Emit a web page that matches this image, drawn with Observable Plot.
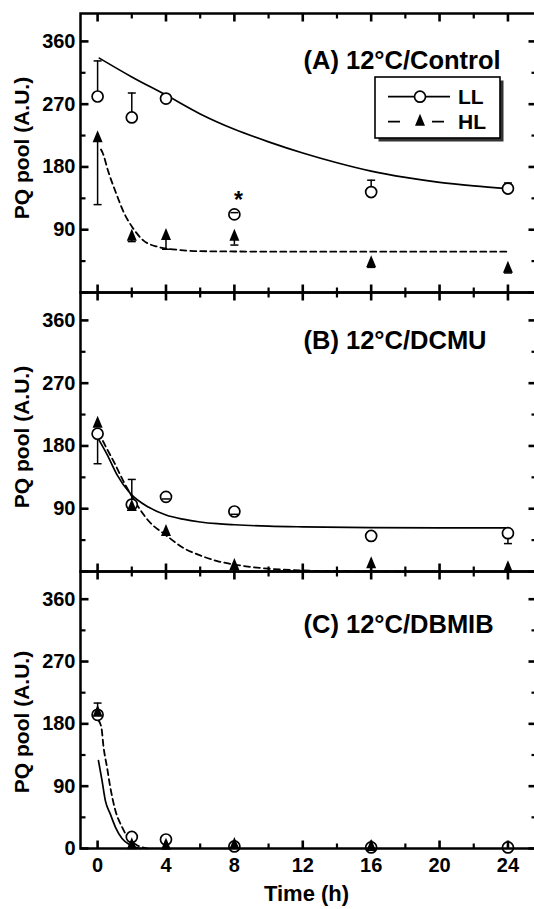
<!DOCTYPE html>
<html><head><meta charset="utf-8">
<script src="https://cdn.jsdelivr.net/npm/d3@7"></script>
<script src="https://cdn.jsdelivr.net/npm/@observablehq/plot@0.6"></script>
<style>
html,body{margin:0;padding:0;background:#fff;overflow:hidden}
#fig{position:relative;width:534px;height:909px;font-family:"Liberation Sans",Arial,Helvetica,sans-serif}
#fig > svg{display:block;overflow:visible}
#legend{position:absolute;left:372px;top:74px;overflow:visible}
</style></head><body><div id="fig"></div>
<script>
// ---------- data ----------
const times = [0, 2, 4, 8, 16, 24];
const panels = ["A", "B", "C"];
const panelTitles = ["(A) 12°C/Control", "(B) 12°C/DCMU", "(C) 12°C/DBMIB"];
const seriesNames = ["LL", "HL"];

// Panel A (12°C/Control)
const llA    = [281, 251, 278, 112, 144, 149];
const llAErr = [332, 286, null, 114.5, 161, 157];
const hlA    = [221, 80, 81, 80, 42, 34];
const hlAErr = [126, 73, 62, 68, 36, 28];
const fitLLA_t = [0.1, 2, 4, 6, 8, 10, 12, 14, 16, 18, 20, 22, 24];
const fitLLA_v = [336, 309, 283, 256, 234, 216, 200, 186, 174, 165, 158, 153, 149];
const fitHLA_t = [0.2, 0.3, 0.63, 1.05, 1.54, 2.05, 2.67, 3.57, 4.64, 5.6, 8, 12, 16, 20, 24];
const fitHLA_v = [205, 200, 173, 144.5, 114.4, 92.9, 74.8, 65.2, 61.3, 59.4, 58.8, 58.5, 58.5, 58.5, 58.5];

// Panel B (12°C/DCMU)
const llB    = [197.5, 96, 107, 86, 51, 55];
const llBErr = [154.5, 132, 104, 82, null, 40];
const hlB    = [212, 92.4, 56.6, 7.9, 10.3, 4.6];
const hlBErr = [null, null, null, null, null, null];
const fitLLB_t = [0.05, 0.55, 1.13, 1.91, 3, 4, 5, 6, 7, 8, 10, 12, 16, 20, 24];
const fitLLB_v = [190, 168, 139, 112, 92, 81, 75, 71, 68.5, 67, 65, 64, 63, 62.5, 62.5];
const fitHLB_t = [0.05, 0.5, 1, 1.5, 2, 3, 4, 5, 6, 7, 8, 10, 12, 14, 16, 18];
const fitHLB_v = [200, 178, 155, 130, 108, 72, 52, 34, 23, 15, 10, 4, 1.5, 0.5, 0.2, 0];

// Panel C (12°C/DBMIB)
const llC    = [193, 16.7, 13, 3, 1.5, 1.5];
const llCErr = [210, null, null, null, null, null];
const hlC    = [196, 4.8, 4, 5, 2, null];
const hlCErr = [null, null, null, null, null, null];
const fitLLC_t = [0.05, 0.26, 0.45, 0.74, 1.04, 1.43, 1.91, 2.5];
const fitLLC_v = [127, 98, 69.5, 50, 31, 14.4, 4.8, 0];
const fitHLC_t = [0.05, 0.22, 0.35, 0.55, 0.74, 1.04, 1.43, 1.81, 2.3, 2.9];
const fitHLC_v = [185, 175, 146, 117.5, 88.7, 55, 31, 14.4, 4.8, 0];

// significance marks
const marksT = [8];
const marksV = [141];
const marksPanel = ["A"];
const marksText = ["*"];

// axis ticks and domains
const xDomain = [-1, 25.67];
const yDomain = [0, 400];
const yMajor = [0, 90, 180, 270, 360];
const yMinor = [45, 135, 225, 315];
const xMajor = [0, 4, 8, 12, 16, 20, 24];
const xMinor = [2, 6, 10, 14, 18, 22];
const yLabelsTop = [90, 180, 270, 360];
const yLabelsBottom = [0, 90, 180, 270, 360];
const xLabel = "Time (h)";
const yLabel = "PQ pool (A.U.)";

// ---------- build ----------
const pts = (vals, errs) => times.map((t, i) => ({t, v: vals[i], err: errs[i]})).filter(d => d.v != null);
const curve = (ts, vs) => ts.map((t, i) => ({t, v: vs[i]}));

const cfgs = [
  {id: "A", ll: pts(llA, llAErr), hl: pts(hlA, hlAErr), fitLL: curve(fitLLA_t, fitLLA_v), fitHL: curve(fitHLA_t, fitHLA_v)},
  {id: "B", ll: pts(llB, llBErr), hl: pts(hlB, hlBErr), fitLL: curve(fitLLB_t, fitLLB_v), fitHL: curve(fitHLB_t, fitHLB_v)},
  {id: "C", ll: pts(llC, llCErr), hl: pts(hlC, hlCErr), fitLL: curve(fitLLC_t, fitLLC_v), fitHL: curve(fitHLC_t, fitHLC_v)}
];
const W = 534, ML = 80, MR = -2;
const layout = [
  {height: 292, mt: 13, mb: 0, titleDy: 47, labelDy: -5},
  {height: 279, mt: 0, mb: 0, titleDy: 48, labelDy: 5},
  {height: 338, mt: 0, mb: 61, titleDy: 53, labelDy: 12}
];

const sym = (f) => ({draw(ctx, size) { f(ctx, Math.sqrt(size / Math.PI)); }});
const triSym = sym((ctx, r) => { ctx.moveTo(0, -1.6 * r); ctx.lineTo(r, 0.8 * r); ctx.lineTo(-r, 0.8 * r); ctx.closePath(); });
const capSym = sym((ctx, r) => { ctx.moveTo(-r, 0); ctx.lineTo(r, 0); });
const tickR = sym((ctx, r) => { ctx.moveTo(0, 0); ctx.lineTo(r, 0); });
const tickL = sym((ctx, r) => { ctx.moveTo(0, 0); ctx.lineTo(-r, 0); });
const tickU = sym((ctx, r) => { ctx.moveTo(0, 0); ctx.lineTo(0, -r); });
const tickD = sym((ctx, r) => { ctx.moveTo(0, 0); ctx.lineTo(0, r); });
const FONT = '"Liberation Sans", Arial, Helvetica, sans-serif';
const DASH = "6,4";

// inward frame ticks as short stub symbols placed on the frame edges through the scales
const frameTicks = (yt, xt, len, sw) => [
  Plot.dot(yt.map(v => ({t: xDomain[0], v})), {x: "t", y: "v", symbol: tickR, r: len, fill: "none", stroke: "black", strokeWidth: sw}),
  Plot.dot(yt.map(v => ({t: xDomain[1], v})), {x: "t", y: "v", symbol: tickL, r: len, fill: "none", stroke: "black", strokeWidth: sw}),
  Plot.dot(xt.map(t => ({t, v: yDomain[0]})), {x: "t", y: "v", symbol: tickU, r: len, fill: "none", stroke: "black", strokeWidth: sw}),
  Plot.dot(xt.map(t => ({t, v: yDomain[1]})), {x: "t", y: "v", symbol: tickD, r: len, fill: "none", stroke: "black", strokeWidth: sw})
];

const fig = document.getElementById("fig");

cfgs.forEach((c, i) => {
  const L = layout[i];
  const bottom = i === panels.length - 1;
  const errs = [...c.ll, ...c.hl].filter(d => d.err != null);
  const sig = marksT.map((t, k) => ({t, v: marksV[k], p: marksPanel[k], s: marksText[k]})).filter(d => d.p === c.id);
  const chart = Plot.plot({
    width: W, height: L.height,
    marginLeft: ML, marginRight: MR, marginTop: L.mt, marginBottom: L.mb,
    x: {domain: xDomain, axis: null},
    y: {domain: yDomain, axis: null},
    style: {fontFamily: FONT, fontWeight: "bold", fontSize: "18px", color: "black", overflow: "visible", background: "transparent"},
    marks: [
      Plot.line(c.fitLL, {x: "t", y: "v", curve: "monotone-x", stroke: "black", strokeWidth: 1.7}),
      Plot.line(c.fitHL, {x: "t", y: "v", curve: "monotone-x", stroke: "black", strokeWidth: 1.8, strokeDasharray: DASH}),
      Plot.ruleX(errs, {x: "t", y1: "v", y2: "err", stroke: "black", strokeWidth: 1.5}),
      Plot.dot(c.ll, {x: "t", y: "v", r: 5.5, fill: "white", stroke: "black", strokeWidth: 1.7}),
      Plot.dot(c.hl, {x: "t", y: "v", r: 5, symbol: triSym, fill: "black", stroke: "none"}),
      Plot.dot(errs, {x: "t", y: "err", r: 4, symbol: capSym, fill: "none", stroke: "black", strokeWidth: 1.5}),
      Plot.text(sig, {x: "t", y: "v", text: "s", dx: 4, dy: 6, fontSize: 23, fontWeight: "bold", fontFamily: FONT}),
      ...frameTicks(yMajor, xMajor, 8, 2.6),
      ...frameTicks(yMinor, xMinor, 5, 2.2),
      Plot.axisY({ticks: bottom ? yLabelsBottom : yLabelsTop, anchor: "left", tickSize: 0, tickPadding: 5, label: null, fontSize: 20, fontWeight: "bold", fontFamily: FONT}),
      bottom ? Plot.axisX({ticks: xMajor, anchor: "bottom", tickSize: 0, tickPadding: 9, label: null, fontSize: 20, fontWeight: "bold", fontFamily: FONT}) : null,
      bottom ? Plot.text([xLabel], {frameAnchor: "bottom", dx: -2, dy: 45, textAnchor: "middle", lineAnchor: "middle", fontSize: 22, fontWeight: "bold", fontFamily: FONT}) : null,
      Plot.frame({stroke: "black", strokeWidth: 2.5}),
      Plot.text([panelTitles[i]], {frameAnchor: "top-left", dx: 223, dy: L.titleDy, textAnchor: "start", lineAnchor: "middle", fontSize: 25.5, fontWeight: "bold", fontFamily: FONT}),
      Plot.text([yLabel], {frameAnchor: "left", rotate: -90, dx: -58, dy: L.labelDy, textAnchor: "middle", lineAnchor: "middle", fontSize: 21, fontWeight: "bold", fontFamily: FONT})
    ]
  });
  fig.appendChild(chart);
});

// ---------- legend (panel A) ----------
const ns = "http://www.w3.org/2000/svg";
const lg = document.createElementNS(ns, "svg");
lg.setAttribute("id", "legend");
lg.setAttribute("width", 140); lg.setAttribute("height", 75);
const el = (tag, attrs) => { const e = document.createElementNS(ns, tag); for (const k in attrs) e.setAttribute(k, attrs[k]); lg.appendChild(e); return e; };
el("rect", {x: 6.5, y: 6.5, width: 125, height: 61, fill: "#333"});
el("rect", {x: 3, y: 3, width: 125, height: 61, fill: "white", stroke: "black", "stroke-width": 1.6});
seriesNames.forEach((name, k) => {
  const cy = 22.7 + k * 25;
  if (k === 0) {
    el("line", {x1: 16, x2: 78, y1: cy, y2: cy, stroke: "black", "stroke-width": 1.8});
    el("circle", {cx: 48, cy, r: 5.5, fill: "white", stroke: "black", "stroke-width": 1.7});
  } else {
    el("line", {x1: 16, x2: 78, y1: cy, y2: cy, stroke: "black", "stroke-width": 1.8, "stroke-dasharray": "12,32"});
    const p = d3.path(); triSym.draw(p, Math.PI * 25);
    el("path", {d: p.toString(), transform: `translate(48,${cy})`, fill: "black"});
  }
  const t = el("text", {x: 86, y: cy, "dominant-baseline": "central", "font-size": 21, "font-weight": "bold", "font-family": FONT});
  t.textContent = name;
});
fig.appendChild(lg);
</script></body></html>
